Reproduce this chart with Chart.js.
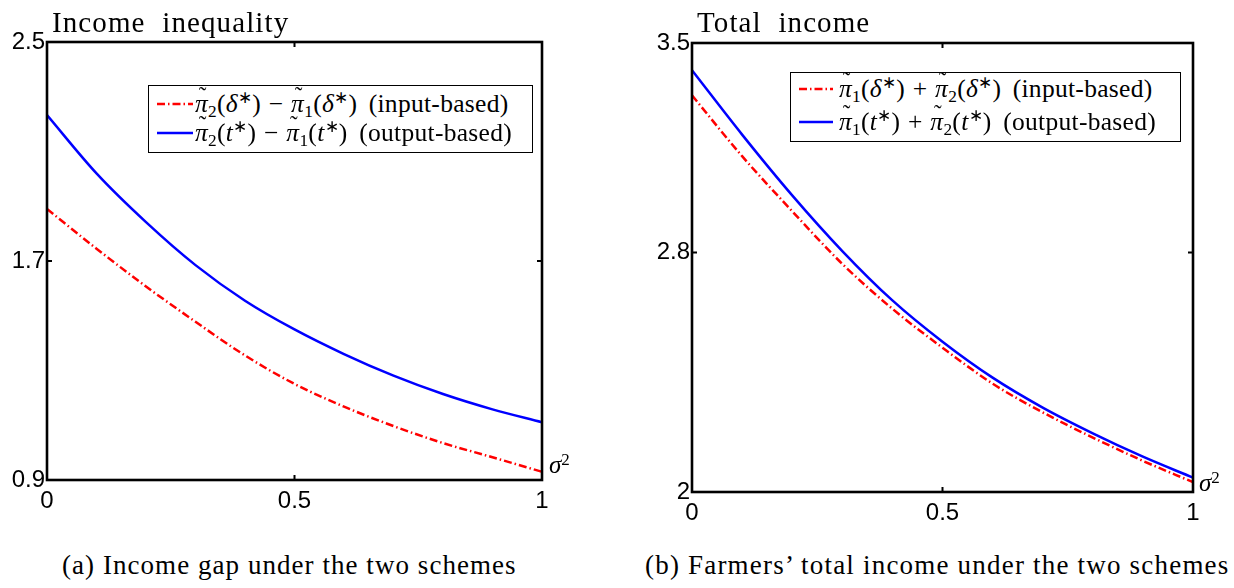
<!DOCTYPE html>
<html><head><meta charset="utf-8">
<script src="https://cdn.jsdelivr.net/npm/chart.js@4.4.1/dist/chart.umd.min.js"></script>
<style>
html,body{margin:0;padding:0;background:#fff;width:1234px;height:588px;overflow:hidden;position:relative}
.wrap{position:absolute}
.serif{font-family:"Liberation Serif","Times New Roman",serif;color:#000;position:absolute;white-space:nowrap;line-height:1}
.legend{position:absolute;border:1px solid #000;background:#fff;box-sizing:border-box;color:#000}
.row{position:absolute;left:0;height:28px;display:flex;align-items:center;white-space:nowrap;line-height:1;font-family:"Liberation Serif","Times New Roman",serif;font-size:25.5px;letter-spacing:0.3px}
.row span{font-family:"Liberation Serif","Times New Roman",serif}
.row svg{display:block}
.pt{position:relative;display:inline-block;font-style:italic}
.tld{position:absolute;left:0.05em;width:100%;text-align:center;top:-0.28em;font-style:normal;font-size:0.9em}
sub{font-size:0.68em;vertical-align:-0.28em;line-height:0}
sup{font-size:0.68em;vertical-align:0.5em;line-height:0}
i{font-style:italic}
.op{padding:0 0.3em}
.sp{display:inline-block;width:0.45em}
</style></head>
<body>
<div class="wrap" style="left:0;top:0;width:620px;height:520px"><canvas id="c1" width="620" height="520"></canvas></div>
<div class="wrap" style="left:640px;top:0;width:594px;height:540px"><canvas id="c2" width="594" height="540"></canvas></div>

<div class="serif" style="left:52px;top:8px;font-size:29px;letter-spacing:1.1px">Income&nbsp; inequality</div>
<div class="serif" style="left:697px;top:8px;font-size:29px;letter-spacing:1.1px">Total&nbsp; income</div>
<div class="serif" style="left:62px;top:552px;font-size:27px;letter-spacing:1.05px">(a) Income gap under the two schemes</div>
<div class="serif" style="left:645px;top:552px;font-size:27px;letter-spacing:1.2px">(b) Farmers’ total income under the two schemes</div>
<div class="serif" style="left:549px;top:452px;font-size:25px"><i>σ</i><sup>2</sup></div>
<div class="serif" style="left:1199px;top:470px;font-size:25px"><i>σ</i><sup>2</sup></div>

<div class="legend" id="lg1" style="left:148px;top:85px;width:385px;height:68px"></div>
<div class="legend" id="lg2" style="left:790px;top:72px;width:391px;height:70px"></div>

<script>
// ---- data ----
const sigma2 = [0, 0.1, 0.2, 0.3, 0.4, 0.5, 0.6, 0.7, 0.8, 0.9, 1.0];
const gapInput  = [1.890, 1.745, 1.607, 1.478, 1.355, 1.251, 1.168, 1.097, 1.035, 0.983, 0.930];
const gapOutput = [2.233, 2.020, 1.842, 1.685, 1.555, 1.450, 1.360, 1.281, 1.214, 1.158, 1.111];
const totalInput  = [3.325, 3.122, 2.938, 2.762, 2.612, 2.482, 2.362, 2.266, 2.182, 2.104, 2.033];
const totalOutput = [3.409, 3.194, 2.991, 2.805, 2.640, 2.502, 2.382, 2.282, 2.196, 2.118, 2.048];
const xTicks = [0, 0.5, 1];
const gapTicks = [0.9, 1.7, 2.5];
const totalTicks = [2, 2.8, 3.5];

const legendLabels = ["input-based", "output-based"];

function pts(ys){ return sigma2.map((x,i)=>({x:x, y:ys[i]})); }

const framePlugin = {
  id:'frame',
  afterDatasetsDraw(chart, args, opts){
    const ctx = chart.ctx, a = chart.chartArea, x = chart.scales.x, y = chart.scales.y;
    ctx.save();
    ctx.strokeStyle = '#000'; ctx.lineWidth = 2.6;
    ctx.strokeRect(a.left, a.top, a.right - a.left, a.bottom - a.top);
    const L = 5;
    ctx.lineWidth = 2;
    ctx.beginPath();
    xTicks.forEach(v=>{ const px = x.getPixelForValue(v);
      ctx.moveTo(px, a.bottom); ctx.lineTo(px, a.bottom - L);
      ctx.moveTo(px, a.top); ctx.lineTo(px, a.top + L); });
    opts.yTicks.forEach(v=>{ const py = y.getPixelForValue(v);
      ctx.moveTo(a.left, py); ctx.lineTo(a.left + L, py);
      ctx.moveTo(a.right, py); ctx.lineTo(a.right - L, py); });
    ctx.stroke();
    ctx.restore();
  }
};

function makeChart(id, inputVals, outputVals, yTicks, yW, pad){
  const tickFont = {family:'"Liberation Sans", Arial, sans-serif', size:24};
  return new Chart(document.getElementById(id), {
    type:'line',
    data:{datasets:[
      {data:pts(inputVals), borderColor:'#ff0000', borderWidth:2.5, borderDash:[8,3,1.5,3], pointRadius:0, fill:false, cubicInterpolationMode:'monotone'},
      {data:pts(outputVals), borderColor:'#0000ff', borderWidth:2.5, pointRadius:0, fill:false, cubicInterpolationMode:'monotone'}
    ]},
    options:{
      responsive:false, animation:false, devicePixelRatio:1,
      layout:{padding:pad},
      plugins:{legend:{display:false}, tooltip:{enabled:false}, frame:{yTicks:yTicks}},
      scales:{
        x:{type:'linear', min:0, max:1,
           afterBuildTicks:s=>{ s.ticks = xTicks.map(v=>({value:v})); },
           afterFit:s=>{ s.height = 40; },
           grid:{display:false, drawTicks:false}, border:{display:false},
           ticks:{font:tickFont, color:'#000', padding:7, maxRotation:0, autoSkip:false, callback:v=>String(v)}},
        y:{type:'linear', min:yTicks[0], max:yTicks[yTicks.length-1],
           afterBuildTicks:s=>{ s.ticks = yTicks.map(v=>({value:v})); },
           afterFit:s=>{ s.width = yW; },
           grid:{display:false, drawTicks:false}, border:{display:false},
           ticks:{font:tickFont, color:'#000', padding:2, autoSkip:false, callback:v=>String(v)}}
      }
    },
    plugins:[framePlugin]
  });
}

makeChart('c1', gapInput, gapOutput, gapTicks, 47, {top:42, right:78, bottom:0, left:0});
makeChart('c2', totalInput, totalOutput, totalTicks, 52, {top:43, right:41, bottom:8, left:0});

// ---- legends (HTML text) ----
function pt(n){ return '<span class="pt">π<span class="tld">˜</span></span><sub>'+n+'</sub>'; }
function arg(s){ return '(<i>'+s+'</i><sup>∗</sup>)'; }
function sample(dashed, w){
  return '<svg width="'+w+'" height="6"><line x1="0" y1="3" x2="'+w+'" y2="3" stroke="'+(dashed?'#ff0000':'#0000ff')+'" stroke-width="2.5"'+(dashed?' stroke-dasharray="8,3,1.5,3"':'')+'/></svg>';
}
function row(top, left, w, gap, dashed, html){
  return '<div class="row" style="top:'+top+'px;left:'+left+'px">'+sample(dashed,w)+'<span style="margin-left:'+gap+'px">'+html+'</span></div>';
}
const L1a = pt(2)+arg('δ')+'<span class="op">−</span>'+pt(1)+arg('δ')+'<span class="sp"></span>('+legendLabels[0]+')';
const L1b = pt(2)+arg('t')+'<span class="op">−</span>'+pt(1)+arg('t')+'<span class="sp"></span>('+legendLabels[1]+')';
const L2a = pt(1)+arg('δ')+'<span class="op">+</span>'+pt(2)+arg('δ')+'<span class="sp"></span>('+legendLabels[0]+')';
const L2b = pt(1)+arg('t')+'<span class="op">+</span>'+pt(2)+arg('t')+'<span class="sp"></span>('+legendLabels[1]+')';
document.getElementById('lg1').innerHTML = row(4, 8, 36, 2, true, L1a) + row(33, 8, 36, 2, false, L1b);
document.getElementById('lg2').innerHTML = row(2, 8, 34, 6, true, L2a) + row(35, 8, 34, 6, false, L2b);
</script>
</body></html>
